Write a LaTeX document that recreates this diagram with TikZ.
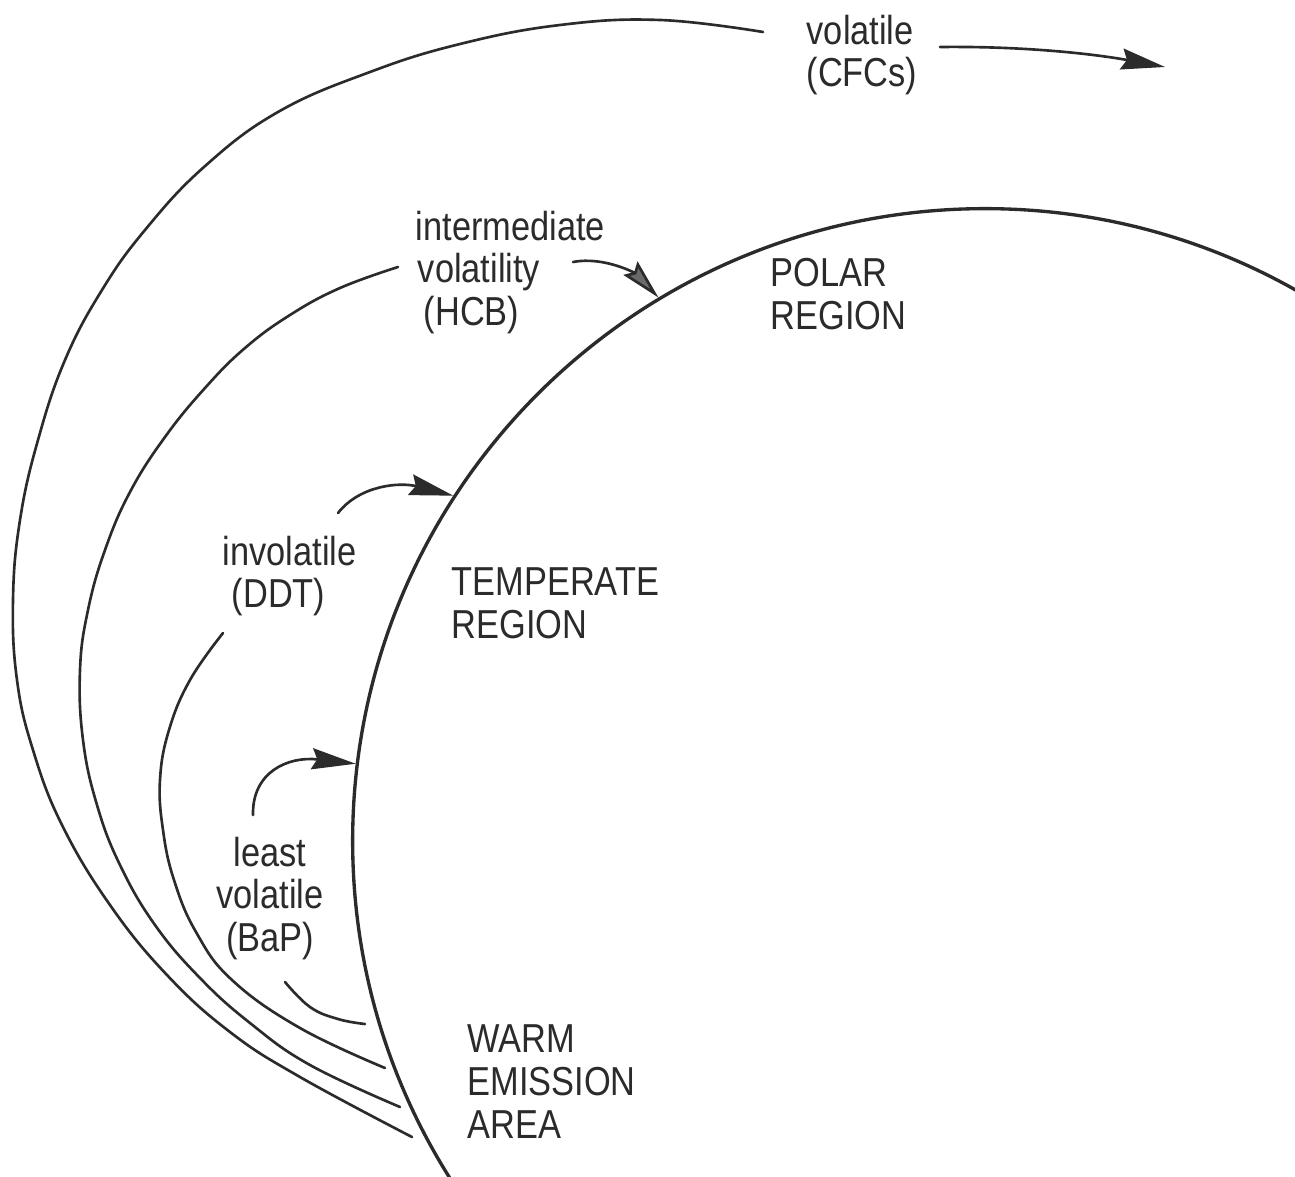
\documentclass[tikz,border=0pt]{standalone}
\usepackage{fontspec}
\setmainfont{Liberation Sans}[FakeStretch=0.85]
\usetikzlibrary{arrows.meta}
\definecolor{ink}{HTML}{2B2B2B}
\definecolor{headgray}{HTML}{6A6A6A}
\begin{document}
\begin{tikzpicture}[x=0.01cm,y=-0.01cm,
  curve/.style={draw=ink, line width=0.75pt, line cap=round},
  rim/.style={draw=ink, line width=0.95pt},
  lbl/.style={font=\fontsize{11.5}{12.2}\selectfont, text=ink, inner sep=0pt, align=left, anchor=north west},
  hop/.style={curve, -{Stealth[length=12.5pt,width=6pt,inset=1.5pt,fill=ink]}},
  hopgray/.style={curve, -{Stealth[length=11.5pt,width=5.5pt,inset=1.5pt,fill=headgray]}},
]
\useasboundingbox (0,0) rectangle (1295,1176);
\clip (0,0) rectangle (1295,1176);
\fill[white] (0,0) rectangle (1295,1176);

% the receiving region, a large circle running off the page
\node[circle, rim, minimum size=12.64cm, inner sep=0pt] (globe) at (985,841) {};

% long-range transport paths fanning out from the warm emission area
\draw[curve] plot[smooth, tension=0.7] coordinates {
  (763,32) (660,20) (560,25) (460,44) (370,72) (278,112) (204,167)
  (145,230) (102,290) (65,360) (38,440) (20,520) (13,600) (17,680)
  (33,750) (62,825) (110,905) (167,975) (230,1032) (300,1077) (412,1137)};
\draw[curve] plot[smooth, tension=0.7] coordinates {
  (398,267) (340,288) (290,315) (245,348) (205,388) (165,437) (130,492)
  (105,550) (88,610) (80,670) (83,740) (97,805) (120,865) (155,925)
  (200,978) (250,1023) (310,1065) (400,1107)};
\draw[curve] plot[smooth, tension=0.7] coordinates {
  (223,633) (190,680) (169,730) (160,780) (163,830) (174,880) (196,932)
  (232,980) (300,1028) (385,1068)};
\draw[curve] plot[smooth, tension=0.7] coordinates {
  (285,982) (310,1007) (338,1019) (365,1024)};

% arrows landing on the regions
\coordinate (cfcStart) at (940,47);
\coordinate (cfcTip) at (1165,67);
\coordinate (hcbStart) at (573,262);
\coordinate (ddtStart) at (338,513);
\coordinate (bapStart) at (253,815);
\draw[hop] (cfcStart) .. controls (1030,46) and (1100,55) .. (cfcTip);
\draw[hopgray] (hcbStart) .. controls (605,256) and (636,274) .. (globe.121.6);
\draw[hop] (ddtStart) .. controls (360,485) and (400,482) .. (globe.147.6);
\draw[hop] (bapStart) .. controls (252,772) and (288,756) .. (globe.173.8);

% labels
\node[lbl] (cfc) at (806,14) {volatile\\(CFCs)};
\node[lbl] (hcb) at (415,210) {intermediate\\\hspace*{0.6pt}volatility\\\hspace*{2.3pt}(HCB)};
\node[lbl] (polar) at (770,258) {POLAR\\REGION};
\node[lbl] (ddt) at (222,535) {involatile\\\hspace*{2.6pt}(DDT)};
\node[lbl] (temperate) at (451,567) {TEMPERATE\\REGION};
\node[lbl, align=center, anchor=north] (bap) at (270,836) {least\\volatile\\(BaP)};
\node[lbl] (warm) at (467,1024) {WARM\\EMISSION\\AREA};
\end{tikzpicture}
\end{document}
